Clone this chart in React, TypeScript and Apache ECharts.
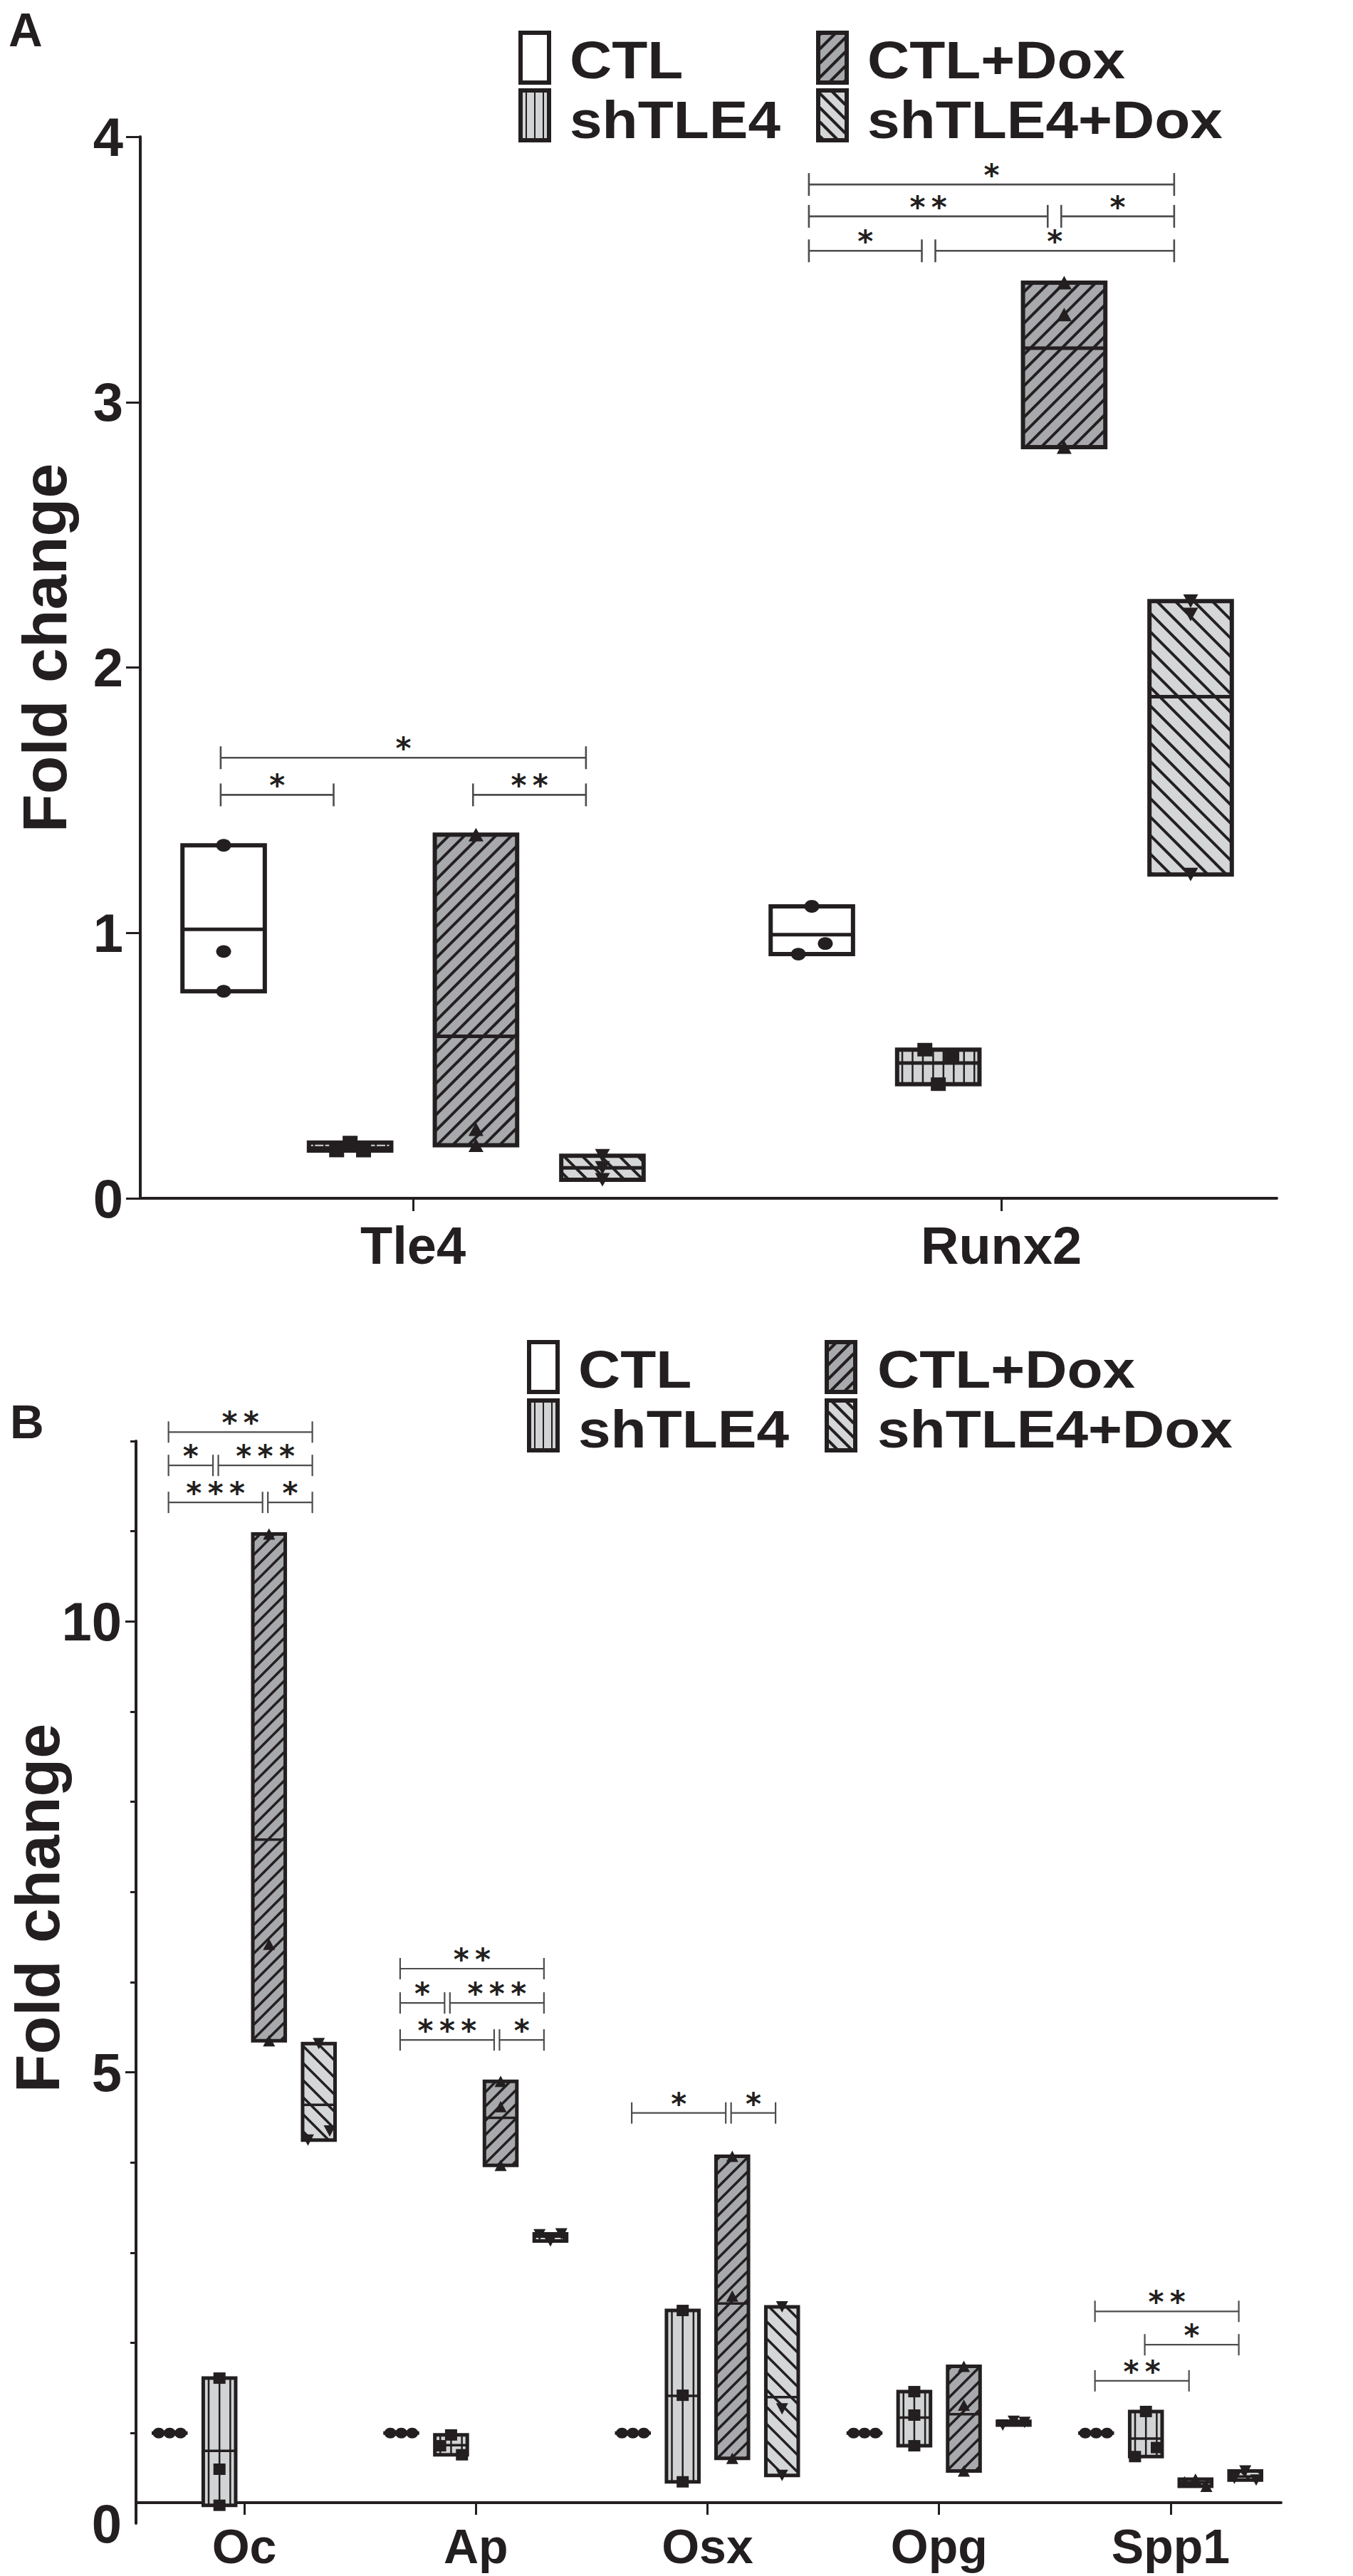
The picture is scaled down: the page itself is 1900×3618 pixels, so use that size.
import React, { useEffect, useRef } from 'react';
import * as echarts from 'echarts';

// ---------------- data ----------------
const GROUPS = ['CTL', 'shTLE4', 'CTL+Dox', 'shTLE4+Dox'];

const A_GENES = ['Tle4', 'Runx2'];
const A_CTL = [[1.33, 0.93, 0.78], [1.10, 0.92, 0.96]];
const A_SHTLE4 = [[0.21, 0.18, 0.18], [0.56, 0.54, 0.43]];
const A_CTL_DOX = [[1.37, 0.26, 0.20], [3.45, 3.33, 2.83]];
const A_SHTLE4_DOX = [[0.16, 0.115, 0.07], [2.25, 2.20, 1.22]];
const A_Y_TICKS = [0, 1, 2, 3, 4];

const B_GENES = ['Oc', 'Ap', 'Osx', 'Opg', 'Spp1'];
const B_CTL = [[1, 1, 1], [1, 1, 1], [1, 1, 1], [1, 1, 1], [1, 1, 1]];
const B_SHTLE4 = [[1.61, 0.60, 0.20], [0.98, 0.86, 0.76], [2.36, 1.42, 0.46], [1.46, 1.20, 0.86], [1.24, 0.74, 0.84]];
const B_CTL_DOX = [[10.97, 6.42, 5.35], [4.90, 4.62, 3.97], [4.07, 2.52, 0.72], [1.74, 1.31, 0.58], [0.49, 0.46, 0.41]];
const B_SHTLE4_DOX = [[5.32, 4.25, 4.35], [3.13, 3.20, 3.21], [2.40, 1.27, 0.53], [1.13, 1.09, 1.12], [0.58, 0.50, 0.48]];
const B_Y_LABELS = [0, 5, 10];
const B_Y_MAJOR = [5, 10];
const B_Y_MINOR = [1, 2, 3, 4, 6, 7, 8, 9, 11, 12];

// significance brackets: [gene index, from group, to group, y level, stars]
const A_BRACKETS: [number, number, number, number, string][] = [
  [0, 0, 1, 1.52, '*'], [0, 2, 3, 1.52, '**'], [0, 0, 3, 1.66, '*'],
  [1, 0, 1, 3.57, '*'], [1, 1, 3, 3.57, '*'], [1, 0, 2, 3.70, '**'], [1, 2, 3, 3.70, '*'], [1, 0, 3, 3.82, '*'],
];
const B_BRACKETS: [number, number, number, number, string][] = [
  [0, 0, 2, 11.32, '***'], [0, 2, 3, 11.32, '*'], [0, 0, 1, 11.73, '*'], [0, 1, 3, 11.73, '***'], [0, 0, 3, 12.10, '**'],
  [1, 0, 2, 5.36, '***'], [1, 2, 3, 5.36, '*'], [1, 0, 1, 5.77, '*'], [1, 1, 3, 5.77, '***'], [1, 0, 3, 6.15, '**'],
  [2, 0, 2, 4.55, '*'], [2, 2, 3, 4.55, '*'],
  [4, 0, 2, 1.58, '**'], [4, 1, 3, 1.98, '*'], [4, 0, 3, 2.35, '**'],
];

// ---------------- styles / layout ----------------
const INK = '#231f20';
const FONT = '"Liberation Sans", Arial, Helvetica, sans-serif';
const OFFSETS = [-0.322, -0.107, 0.107, 0.322];
const BOX_W = 0.14;
const GROUP_STYLE = [
  { fill: '#ffffff', hatch: '', marker: 'circle' },
  { fill: '#d1d3d4', hatch: 'vert', marker: 'square' },
  { fill: '#a7a9ac', hatch: 'up', marker: 'triangle' },
  { fill: '#d4d6d8', hatch: 'down', marker: 'triangleDown' },
];
const PANEL_A = { boxStroke: 6, meanW: 5, mw: 21, mh: 19, hatchW: 4, up: 22, down: 26, vert: 14, vertW: 2.5, brW: 2.6, tick: 16 };
const PANEL_B = { boxStroke: 5, meanW: 3.5, mw: 17, mh: 16, hatchW: 3.5, up: 20, down: 24, vert: 14, vertW: 2.5, brW: 2.2, tick: 15 };
const LEGEND_FONT = 74;

function hatch(kind: string, x0: number, y0: number, x1: number, y1: number, spacing: number, lw: number): any[] {
  const out: any[] = [];
  const st = { stroke: INK, lineWidth: lw };
  if (y1 - y0 < 0.5 || x1 - x0 < 0.5) return out;
  if (kind === 'vert') {
    const w = x1 - x0;
    const n = Math.max(1, Math.round(w / spacing));
    for (let i = 0; i < n; i++) {
      const x = x0 + ((i + 0.5) * w) / n;
      out.push({ type: 'line', shape: { x1: x, y1: y0, x2: x, y2: y1 }, style: st });
    }
  } else if (kind === 'up') {
    for (let c = Math.ceil((x0 + y0) / spacing) * spacing; c <= x1 + y1; c += spacing) {
      const xl = Math.max(x0, c - y1);
      const xh = Math.min(x1, c - y0);
      if (xh - xl > 0.5) out.push({ type: 'line', shape: { x1: xl, y1: c - xl, x2: xh, y2: c - xh }, style: st });
    }
  } else if (kind === 'down') {
    for (let c = Math.ceil((x0 - y1) / spacing) * spacing; c <= x1 - y0; c += spacing) {
      const xl = Math.max(x0, y0 + c);
      const xh = Math.min(x1, y1 + c);
      if (xh - xl > 0.5) out.push({ type: 'line', shape: { x1: xl, y1: xl - c, x2: xh, y2: xh - c }, style: st });
    }
  }
  return out;
}

function marker(kind: string, cx: number, cy: number, w: number, h: number): any {
  const style = { fill: INK };
  if (kind === 'circle') return { type: 'ellipse', shape: { cx, cy, rx: w / 2, ry: h * 0.47 }, style };
  if (kind === 'square') return { type: 'rect', shape: { x: cx - w / 2, y: cy - h / 2, width: w, height: h }, style };
  if (kind === 'triangle')
    return { type: 'polygon', shape: { points: [[cx, cy - h / 2], [cx + w / 2, cy + h / 2], [cx - w / 2, cy + h / 2]] }, style };
  return { type: 'polygon', shape: { points: [[cx, cy + h / 2], [cx + w / 2, cy - h / 2], [cx - w / 2, cy - h / 2]] }, style };
}

function spread(ys: number[], thresh: number, step: number): number[] {
  const off = ys.map(() => 0);
  const idx = ys.map((_, i) => i).sort((a, b) => ys[a] - ys[b]);
  const clusters: number[][] = [];
  let cur = [idx[0]];
  for (let k = 1; k < idx.length; k++) {
    if (ys[idx[k]] - ys[idx[k - 1]] < thresh) cur.push(idx[k]);
    else { clusters.push(cur); cur = [idx[k]]; }
  }
  clusters.push(cur);
  for (const cl of clusters) {
    cl.sort((a, b) => a - b);
    if (cl.length === 2) { off[cl[0]] = -step; off[cl[1]] = step; }
    else if (cl.length >= 3) { off[cl[0]] = 0; off[cl[1]] = -step; off[cl[2]] = step; }
  }
  return off;
}

function groupRender(g: number, P: any) {
  const gs = GROUP_STYLE[g];
  return (params: any, api: any) => {
    const cat = api.value(0);
    const vals = [api.value(1), api.value(2), api.value(3)];
    const xc = cat + OFFSETS[g];
    const lo = Math.min(...vals);
    const hi = Math.max(...vals);
    const mean = vals.reduce((a, b) => a + b, 0) / vals.length;
    const pl = api.coord([xc - BOX_W / 2, hi]);
    const pr = api.coord([xc + BOX_W / 2, lo]);
    const pm = api.coord([xc, mean]);
    const x0 = pl[0], y0 = pl[1], x1 = pr[0], y1 = pr[1];
    const children: any[] = [];
    children.push({ type: 'rect', shape: { x: x0, y: y0, width: x1 - x0, height: y1 - y0 }, style: { fill: gs.fill } });
    if (gs.hatch) {
      const sp = gs.hatch === 'vert' ? P.vert : gs.hatch === 'up' ? P.up : P.down;
      const lw = gs.hatch === 'vert' ? P.vertW : P.hatchW;
      children.push(...hatch(gs.hatch, x0, y0, x1, y1, sp, lw));
    }
    children.push({
      type: 'rect', shape: { x: x0, y: y0, width: x1 - x0, height: Math.max(y1 - y0, 0.01) },
      style: { fill: 'none', stroke: INK, lineWidth: P.boxStroke },
    });
    children.push({ type: 'line', shape: { x1: x0, y1: pm[1], x2: x1, y2: pm[1] }, style: { stroke: INK, lineWidth: P.meanW } });
    const pts = vals.map((v) => api.coord([xc, v]));
    const offs = spread(pts.map((p) => p[1]), P.mh * 0.8, P.mw * 0.9);
    pts.forEach((p, i) => children.push(marker(gs.marker, p[0] + offs[i], p[1], P.mw, P.mh)));
    return { type: 'group', children };
  };
}

function bracketRender(list: [number, number, number, number, string][], P: any) {
  return (params: any, api: any) => {
    const b = list[params.dataIndex];
    const y = api.value(2);
    const p1 = api.coord([api.value(0), y]);
    const p2 = api.coord([api.value(1), y]);
    const st = { stroke: '#4d4d4f', lineWidth: P.brW };
    const stars = b[4].split('').join('\u2009');
    return {
      type: 'group',
      children: [
        { type: 'line', shape: { x1: p1[0], y1: p1[1], x2: p2[0], y2: p2[1] }, style: st },
        { type: 'line', shape: { x1: p1[0], y1: p1[1] - P.tick, x2: p1[0], y2: p1[1] + P.tick }, style: st },
        { type: 'line', shape: { x1: p2[0], y1: p2[1] - P.tick, x2: p2[0], y2: p2[1] + P.tick }, style: st },
        {
          type: 'text',
          x: (p1[0] + p2[0]) / 2,
          y: p1[1] - 12.5,
          style: {
            text: stars, font: 'bold 42px "DejaVu Sans", sans-serif', fill: INK,
            align: 'center', verticalAlign: 'middle', textAlign: 'center', textVerticalAlign: 'middle',
          },
        },
      ],
    };
  };
}

function bracketData(list: [number, number, number, number, string][]) {
  return list.map((b) => [b[0] + OFFSETS[b[1]] - 0.005, b[0] + OFFSETS[b[2]] - 0.028, b[3]]);
}

function groupData(arr: number[][]) {
  return arr.map((v, i) => [i, v[0], v[1], v[2]]);
}

function legend(boxX: number[], rowsY: number[], textX: number[], baseY: number[]): any[] {
  const els: any[] = [];
  const bw = 40, bh = 70;
  GROUPS.forEach((name, g) => {
    const col = g < 2 ? 0 : 1;
    const row = g % 2;
    const gs = GROUP_STYLE[g];
    const x0 = boxX[col], y0 = rowsY[row];
    els.push({ type: 'rect', shape: { x: x0, y: y0, width: bw, height: bh }, style: { fill: gs.fill } });
    if (gs.hatch) {
      const sp = gs.hatch === 'vert' ? 12 : 20;
      const lw = gs.hatch === 'vert' ? 2 : 4;
      hatch(gs.hatch, x0 + 2, y0, x0 + bw - 2, y0 + bh, sp, lw).forEach((e) => els.push(e));
    }
    els.push({ type: 'rect', shape: { x: x0, y: y0, width: bw, height: bh }, style: { fill: 'none', stroke: INK, lineWidth: 6 } });
    els.push({
      type: 'text', x: textX[col], y: baseY[row] - 0.3465 * LEGEND_FONT, scaleX: 82 / LEGEND_FONT,
      style: {
        text: name, font: 'bold ' + LEGEND_FONT + 'px ' + FONT, fill: INK,
        align: 'left', verticalAlign: 'middle', textAlign: 'left', textVerticalAlign: 'middle',
      },
    });
  });
  return els;
}

function textEl(text: string, x: number, y: number, font: string, rotation = 0, align = 'left') {
  return {
    type: 'text', x, y, rotation,
    style: { text, font, fill: INK, align, verticalAlign: 'middle', textAlign: align, textVerticalAlign: 'middle' },
  };
}

function buildOption(): any {
  const axisLineStyle = { color: INK, width: 4 };
  const tickStyle = { color: INK, width: 3 };
  const labelBase = { fontSize: 76, fontWeight: 'bold', fontFamily: FONT, color: INK };
  const groupsA = [A_CTL, A_SHTLE4, A_CTL_DOX, A_SHTLE4_DOX];
  const groupsB = [B_CTL, B_SHTLE4, B_CTL_DOX, B_SHTLE4_DOX];
  const series: any[] = [];
  groupsA.forEach((arr, g) =>
    series.push({
      type: 'custom', xAxisIndex: 0, yAxisIndex: 0, name: GROUPS[g], silent: true,
      encode: { x: 0, y: [1, 2, 3] }, data: groupData(arr), renderItem: groupRender(g, PANEL_A),
    })
  );
  series.push({
    type: 'custom', xAxisIndex: 0, yAxisIndex: 0, silent: true, z: 5,
    encode: { x: [0, 1], y: 2 }, data: bracketData(A_BRACKETS), renderItem: bracketRender(A_BRACKETS, PANEL_A),
  });
  groupsB.forEach((arr, g) =>
    series.push({
      type: 'custom', xAxisIndex: 1, yAxisIndex: 1, name: GROUPS[g], silent: true,
      encode: { x: 0, y: [1, 2, 3] }, data: groupData(arr), renderItem: groupRender(g, PANEL_B),
    })
  );
  series.push({
    type: 'custom', xAxisIndex: 1, yAxisIndex: 1, silent: true, z: 5,
    encode: { x: [0, 1], y: 2 }, data: bracketData(B_BRACKETS), renderItem: bracketRender(B_BRACKETS, PANEL_B),
  });

  const graphic: any[] = [
    textEl('A', 12, 65 - 0.3465 * 66, 'bold 66px ' + FONT),
    textEl('B', 14, 2020 - 0.3465 * 66, 'bold 66px ' + FONT),
    textEl('Fold change', 62, 910, 'bold 88px ' + FONT, Math.PI / 2, 'center'),
    textEl('Fold change', 52, 2680, 'bold 88px ' + FONT, Math.PI / 2, 'center'),
    ...legend([731, 1149], [46, 127], [800, 1218], [110, 194]),
    ...legend([743, 1161], [1885, 1967], [812, 1232], [1949, 2033]),
  ];

  return {
    animation: false,
    backgroundColor: '#ffffff',
    grid: [
      { left: 197, top: 192, width: 1596, height: 1491 },
      { left: 191, top: 2024, width: 1608, height: 1520 },
    ],
    xAxis: [
      {
        type: 'value', gridIndex: 0, min: -0.4637, max: 1.4685,
        axisLine: { show: true, onZero: false, lineStyle: axisLineStyle },
        axisTick: { show: true, customValues: [0, 1], length: 18, lineStyle: tickStyle },
        axisLabel: { ...labelBase, fontSize: 74, customValues: [0, 1], margin: 29, formatter: (v: number) => A_GENES[Math.round(v)] ?? '' },
        splitLine: { show: false },
      },
      {
        type: 'value', gridIndex: 1, min: -0.4673, max: 4.4766, offset: -29,
        axisLine: { show: true, onZero: false, lineStyle: axisLineStyle },
        axisTick: { show: true, customValues: [0, 1, 2, 3, 4], length: 17, lineStyle: tickStyle },
        axisLabel: { ...labelBase, fontSize: 68, customValues: [0, 1, 2, 3, 4], margin: 27, formatter: (v: number) => B_GENES[Math.round(v)] ?? '' },
        splitLine: { show: false },
      },
    ],
    yAxis: [
      {
        type: 'value', gridIndex: 0, min: 0, max: 4, interval: 1, position: 'left',
        axisLine: { show: true, onZero: false, lineStyle: axisLineStyle },
        axisTick: { show: true, customValues: A_Y_TICKS, length: 20, lineStyle: tickStyle },
        axisLabel: { ...labelBase, customValues: A_Y_TICKS, margin: 24 },
        splitLine: { show: false },
      },
      {
        type: 'value', gridIndex: 1, min: 0, max: 12, position: 'left',
        axisLine: { show: true, onZero: false, lineStyle: axisLineStyle },
        axisTick: { show: true, customValues: B_Y_MAJOR, length: 15, lineStyle: tickStyle },
        axisLabel: { ...labelBase, customValues: B_Y_LABELS, margin: 20 },
        splitLine: { show: false },
      },
      {
        type: 'value', gridIndex: 1, min: 0, max: 12, position: 'left',
        axisLine: { show: false, onZero: false },
        axisTick: { show: true, customValues: B_Y_MINOR, length: 8, lineStyle: tickStyle },
        axisLabel: { show: false },
        splitLine: { show: false },
      },
    ],
    series,
    graphic,
  };
}

export default function App() {
  const ref = useRef<HTMLDivElement>(null);
  useEffect(() => {
    if (!ref.current) return;
    const chart = echarts.init(ref.current, null, { renderer: 'svg' });
    chart.setOption(buildOption());
    return () => chart.dispose();
  }, []);
  return (
    <div
      ref={ref}
      style={{ position: 'absolute', left: 0, top: 0, width: 1900, height: 3618, background: '#ffffff' }}
    />
  );
}
